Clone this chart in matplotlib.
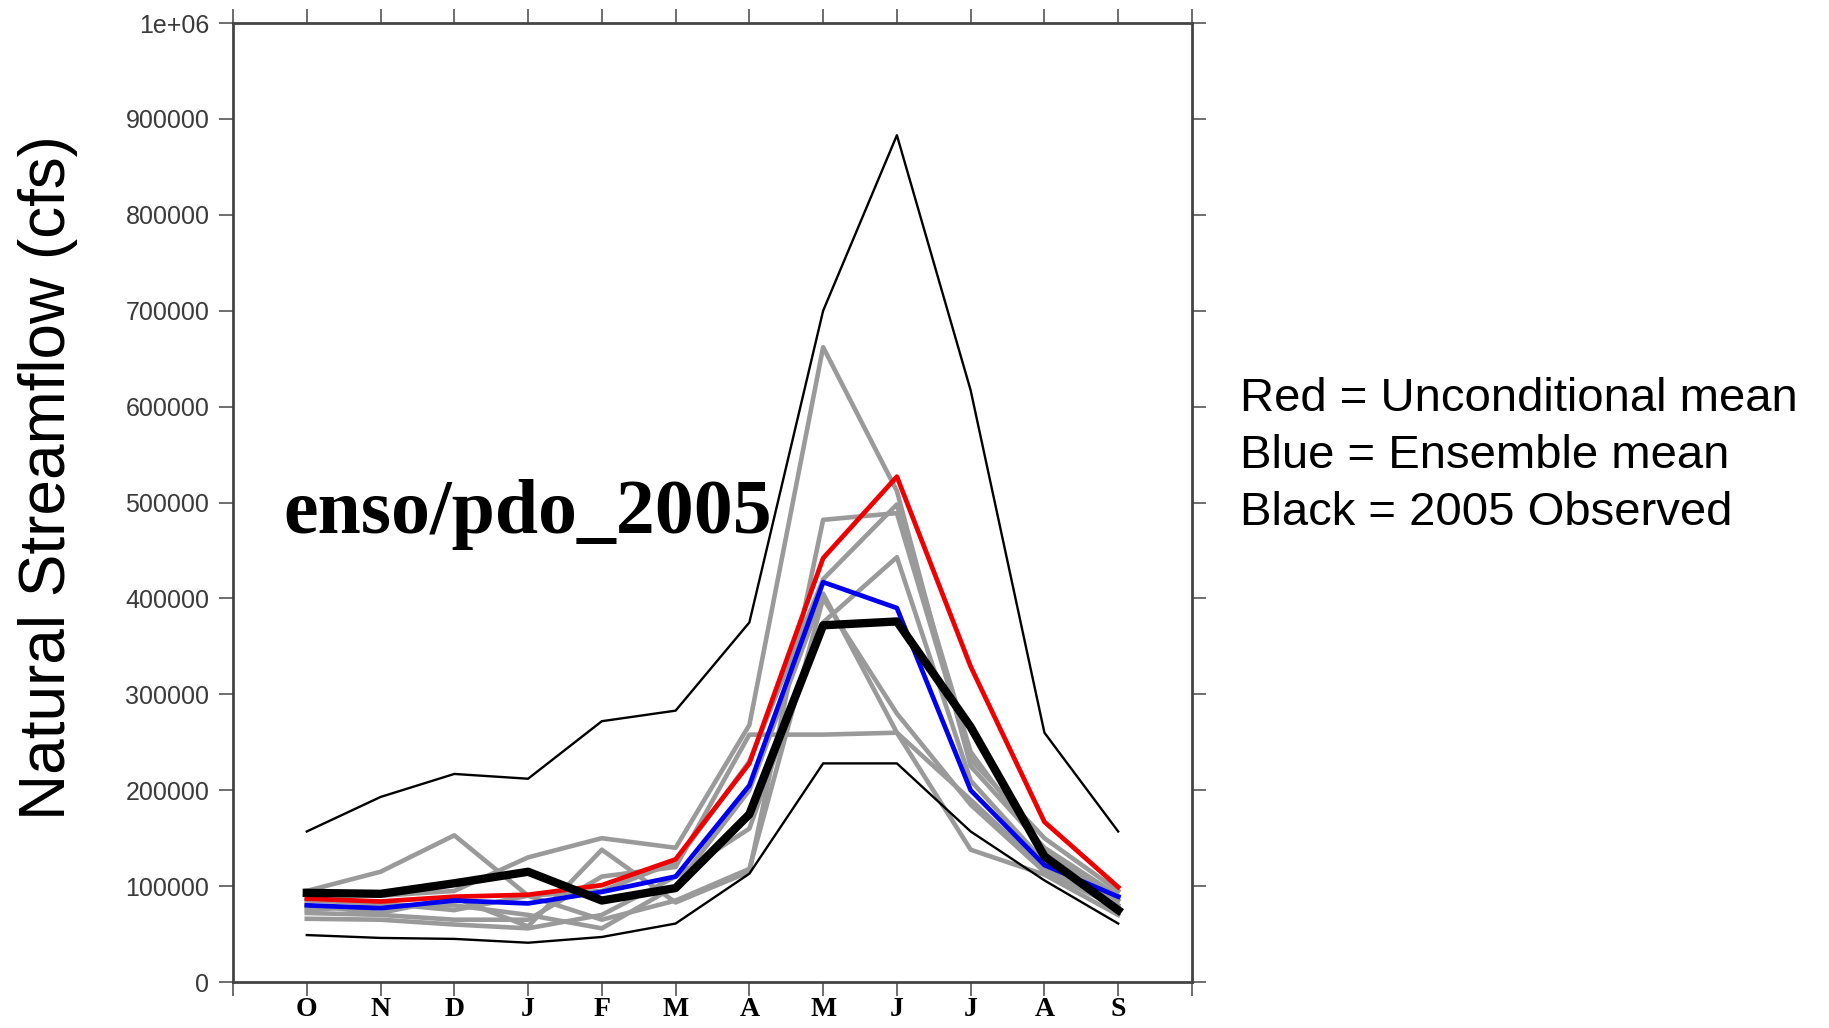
import matplotlib
matplotlib.use("Agg")
import matplotlib.pyplot as plt

# month positions and labels (water year Oct..Sep)
months = ['O', 'N', 'D', 'J', 'F', 'M', 'A', 'M', 'J', 'J', 'A', 'S']
xpos = list(range(1, 13))

# ensemble members (gray)
members = [
    [95000, 115000, 153000, 90000, 65000, 85000, 118000, 400000, 280000, 185000, 115000, 78000],
    [95000, 90000, 95000, 130000, 150000, 140000, 268000, 662000, 512000, 225000, 140000, 90000],
    [80000, 72000, 88000, 58000, 138000, 83000, 115000, 482000, 489000, 232000, 150000, 95000],
    [72000, 70000, 65000, 65000, 110000, 120000, 258000, 258000, 260000, 138000, 112000, 70000],
    [66000, 65000, 60000, 56000, 70000, 110000, 160000, 375000, 443000, 210000, 125000, 85000],
    [75000, 80000, 80000, 70000, 56000, 100000, 200000, 405000, 260000, 190000, 118000, 80000],
    [85000, 82000, 75000, 90000, 95000, 125000, 230000, 420000, 498000, 240000, 135000, 88000],
]
# envelope (thin black)
upper = [157000, 193000, 217000, 212000, 272000, 283000, 375000, 700000, 883000, 617000, 260000, 157000]
lower = [49000, 46000, 45000, 41000, 47000, 61000, 113000, 228000, 228000, 157000, 106000, 61000]

uncond_mean = [87000, 84000, 89000, 91000, 101000, 128000, 228000, 442000, 527000, 329000, 167000, 99000]
ens_mean = [80000, 77000, 85000, 82000, 94000, 110000, 205000, 417000, 390000, 200000, 122000, 89000]
observed = [93000, 92000, 103000, 115000, 85000, 98000, 175000, 372000, 376000, 266000, 131000, 75000]

yticks = list(range(0, 1000001, 100000))
ylabels = [str(v) for v in yticks[:-1]] + ['1e+06']

fig = plt.figure(figsize=(18.29, 10.28), dpi=100)
ax = fig.add_axes([0.1274, 0.0447, 0.5243, 0.9329])

for m in members:
    ax.plot(xpos, m, color='#9a9a9a', lw=3.3)
ax.plot(xpos, upper, color='black', lw=1.7)
ax.plot(xpos, lower, color='black', lw=1.7)
ax.plot(xpos, uncond_mean, color='#ee0000', lw=3.4)
ax.plot(xpos, ens_mean, color='#0000ee', lw=3.4)
ax.plot(xpos, observed, color='black', lw=6)

ax.set_xlim(0, 13)
ax.set_ylim(0, 1000000)
ax.set_xticks(range(0, 14))
ax.set_xticklabels([''] + months + [''], fontfamily='Liberation Serif',
                   fontweight='bold', fontsize=20)
ax.set_yticks(yticks)
ax.set_yticklabels(ylabels, fontfamily='Liberation Sans', fontsize=18, color='#3a3a3a')
ax.tick_params(direction='out', length=10, width=1.2, color='#555555',
               top=True, right=True, pad=7)
ax.tick_params(axis='x', pad=1)
for s in ax.spines.values():
    s.set_color('#444444')
    s.set_linewidth(2)

ax.text(0.053, 0.488, 'enso/pdo_2005', transform=ax.transAxes, fontsize=56,
        fontfamily='Liberation Serif', fontweight='bold', va='center', ha='left')

fig.text(0.026, 0.535, 'Natural Streamflow (cfs)', rotation=90, ha='center', va='center',
         fontsize=46, fontfamily=['Liberation Sans Narrow', 'Liberation Sans'])

for i, t in enumerate(['Red = Unconditional mean', 'Blue = Ensemble mean',
                       'Black = 2005 Observed']):
    fig.text(0.678, 1 - (399 + 57 * i) / 1028, t, fontsize=34,
             fontfamily='Liberation Sans', va='center', ha='left')

fig.savefig('out.png', dpi=100)
